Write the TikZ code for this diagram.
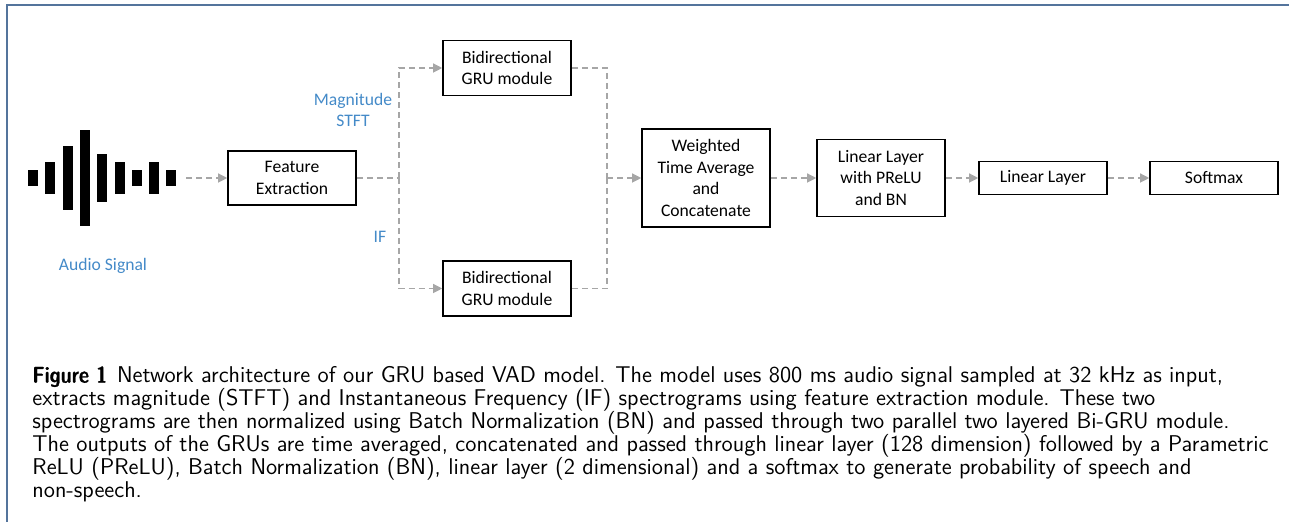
\documentclass[tikz,border=0pt]{standalone}
\usepackage{fontspec}
\newfontfamily\boxfont{Carlito}
\newfontfamily\capbold[FakeBold=1.2]{Latin Modern Sans Demi Cond}
\usetikzlibrary{arrows.meta,positioning}
\definecolor{framecol}{RGB}{84,116,156}
\definecolor{labelblue}{RGB}{68,138,200}
\definecolor{linkgray}{RGB}{166,166,166}
\tikzset{
	block/.style={draw, line width=0.8pt, minimum width=64pt, inner sep=0pt, align=center,
		font=\boxfont\fontsize{8.8}{10.8}\selectfont},
	sigtext/.style={text=labelblue, inner sep=0pt, align=center, font=\boxfont\fontsize{8.8}{10.8}\selectfont},
	link/.style={draw=linkgray, line width=0.6pt, dash pattern=on 3pt off 2pt,
		-{Triangle[length=4.5pt,width=4.5pt]}},
	plain/.style={link, -}
}
\begin{document}
\begin{tikzpicture}[x=0.5pt,y=-0.5pt]
	\useasboundingbox (0,0) rectangle (1289,522);
	\draw[framecol, line width=1pt] (7,522) -- (7,5) -- (1289,5);
	% audio waveform
	\foreach \h [count=\i from 0] in {16,32,64,96,48,32,16,32,16}
		\fill ({28+17.3*\i},{178-\h/2}) rectangle ++(10,\h);
	\coordinate (wave) at (186,178);
	\node[sigtext] (audio) at (103,266) {Audio Signal};
	% blocks
	\node[block, minimum height=27pt] (feat) at (292,178) {Feature\\Extraction};
	\node[block, minimum height=27.5pt] (gruA) at (507,68) {Bidirectional\\GRU module};
	\node[block, minimum height=27.5pt] (gruB) at (507,288.5) {Bidirectional\\GRU module};
	\node[block, minimum height=49pt] (wavg) at (706,178) {Weighted\\Time Average\\and\\Concatenate};
	\node[block, minimum height=38.5pt] (lin1) at (881,178) {Linear Layer\\with PReLU\\and BN};
	\node[block, minimum height=16.5pt] (lin2) at (1043,178) {Linear Layer};
	\node[block, minimum height=16.5pt] (soft) at (1214,178) {Softmax};
	\node[sigtext] (mag) at (353,110) {Magnitude\\STFT};
	\node[sigtext] (ifreq) at (380,237) {IF};
	% connectors
	\coordinate (split) at (399,178);
	\coordinate (join) at (607,178);
	\draw[link] (wave) -- (feat);
	\draw[plain] (feat) -- (split);
	\draw[link] (split) |- (gruA);
	\draw[link] (split) |- (gruB);
	\draw[plain] (gruA) -| (join);
	\draw[plain] (gruB) -| (join);
	\draw[link] (join) -- (wavg);
	\draw[link] (wavg) -- (lin1);
	\draw[link] (lin1) -- (lin2);
	\draw[link] (lin2) -- (soft);
	% caption
	\node[anchor=north west, inner sep=0pt, align=left, font=\sffamily\fontsize{11.4}{11.5}\selectfont] (cap) at (32,366)
		{{\capbold Figure 1}\hspace{5pt}Network architecture of our GRU based VAD model. The model uses 800 ms audio signal sampled at 32 kHz as input,\\
		extracts magnitude (STFT) and Instantaneous Frequency (IF) spectrograms using feature extraction module. These two\\
		spectrograms are then normalized using Batch Normalization (BN) and passed through two parallel two layered Bi-GRU module.\\
		The outputs of the GRUs are time averaged, concatenated and passed through linear layer (128 dimension) followed by a Parametric\\
		ReLU (PReLU), Batch Normalization (BN), linear layer (2 dimensional) and a softmax to generate probability of speech and\\
		non-speech.};
\end{tikzpicture}
\end{document}
